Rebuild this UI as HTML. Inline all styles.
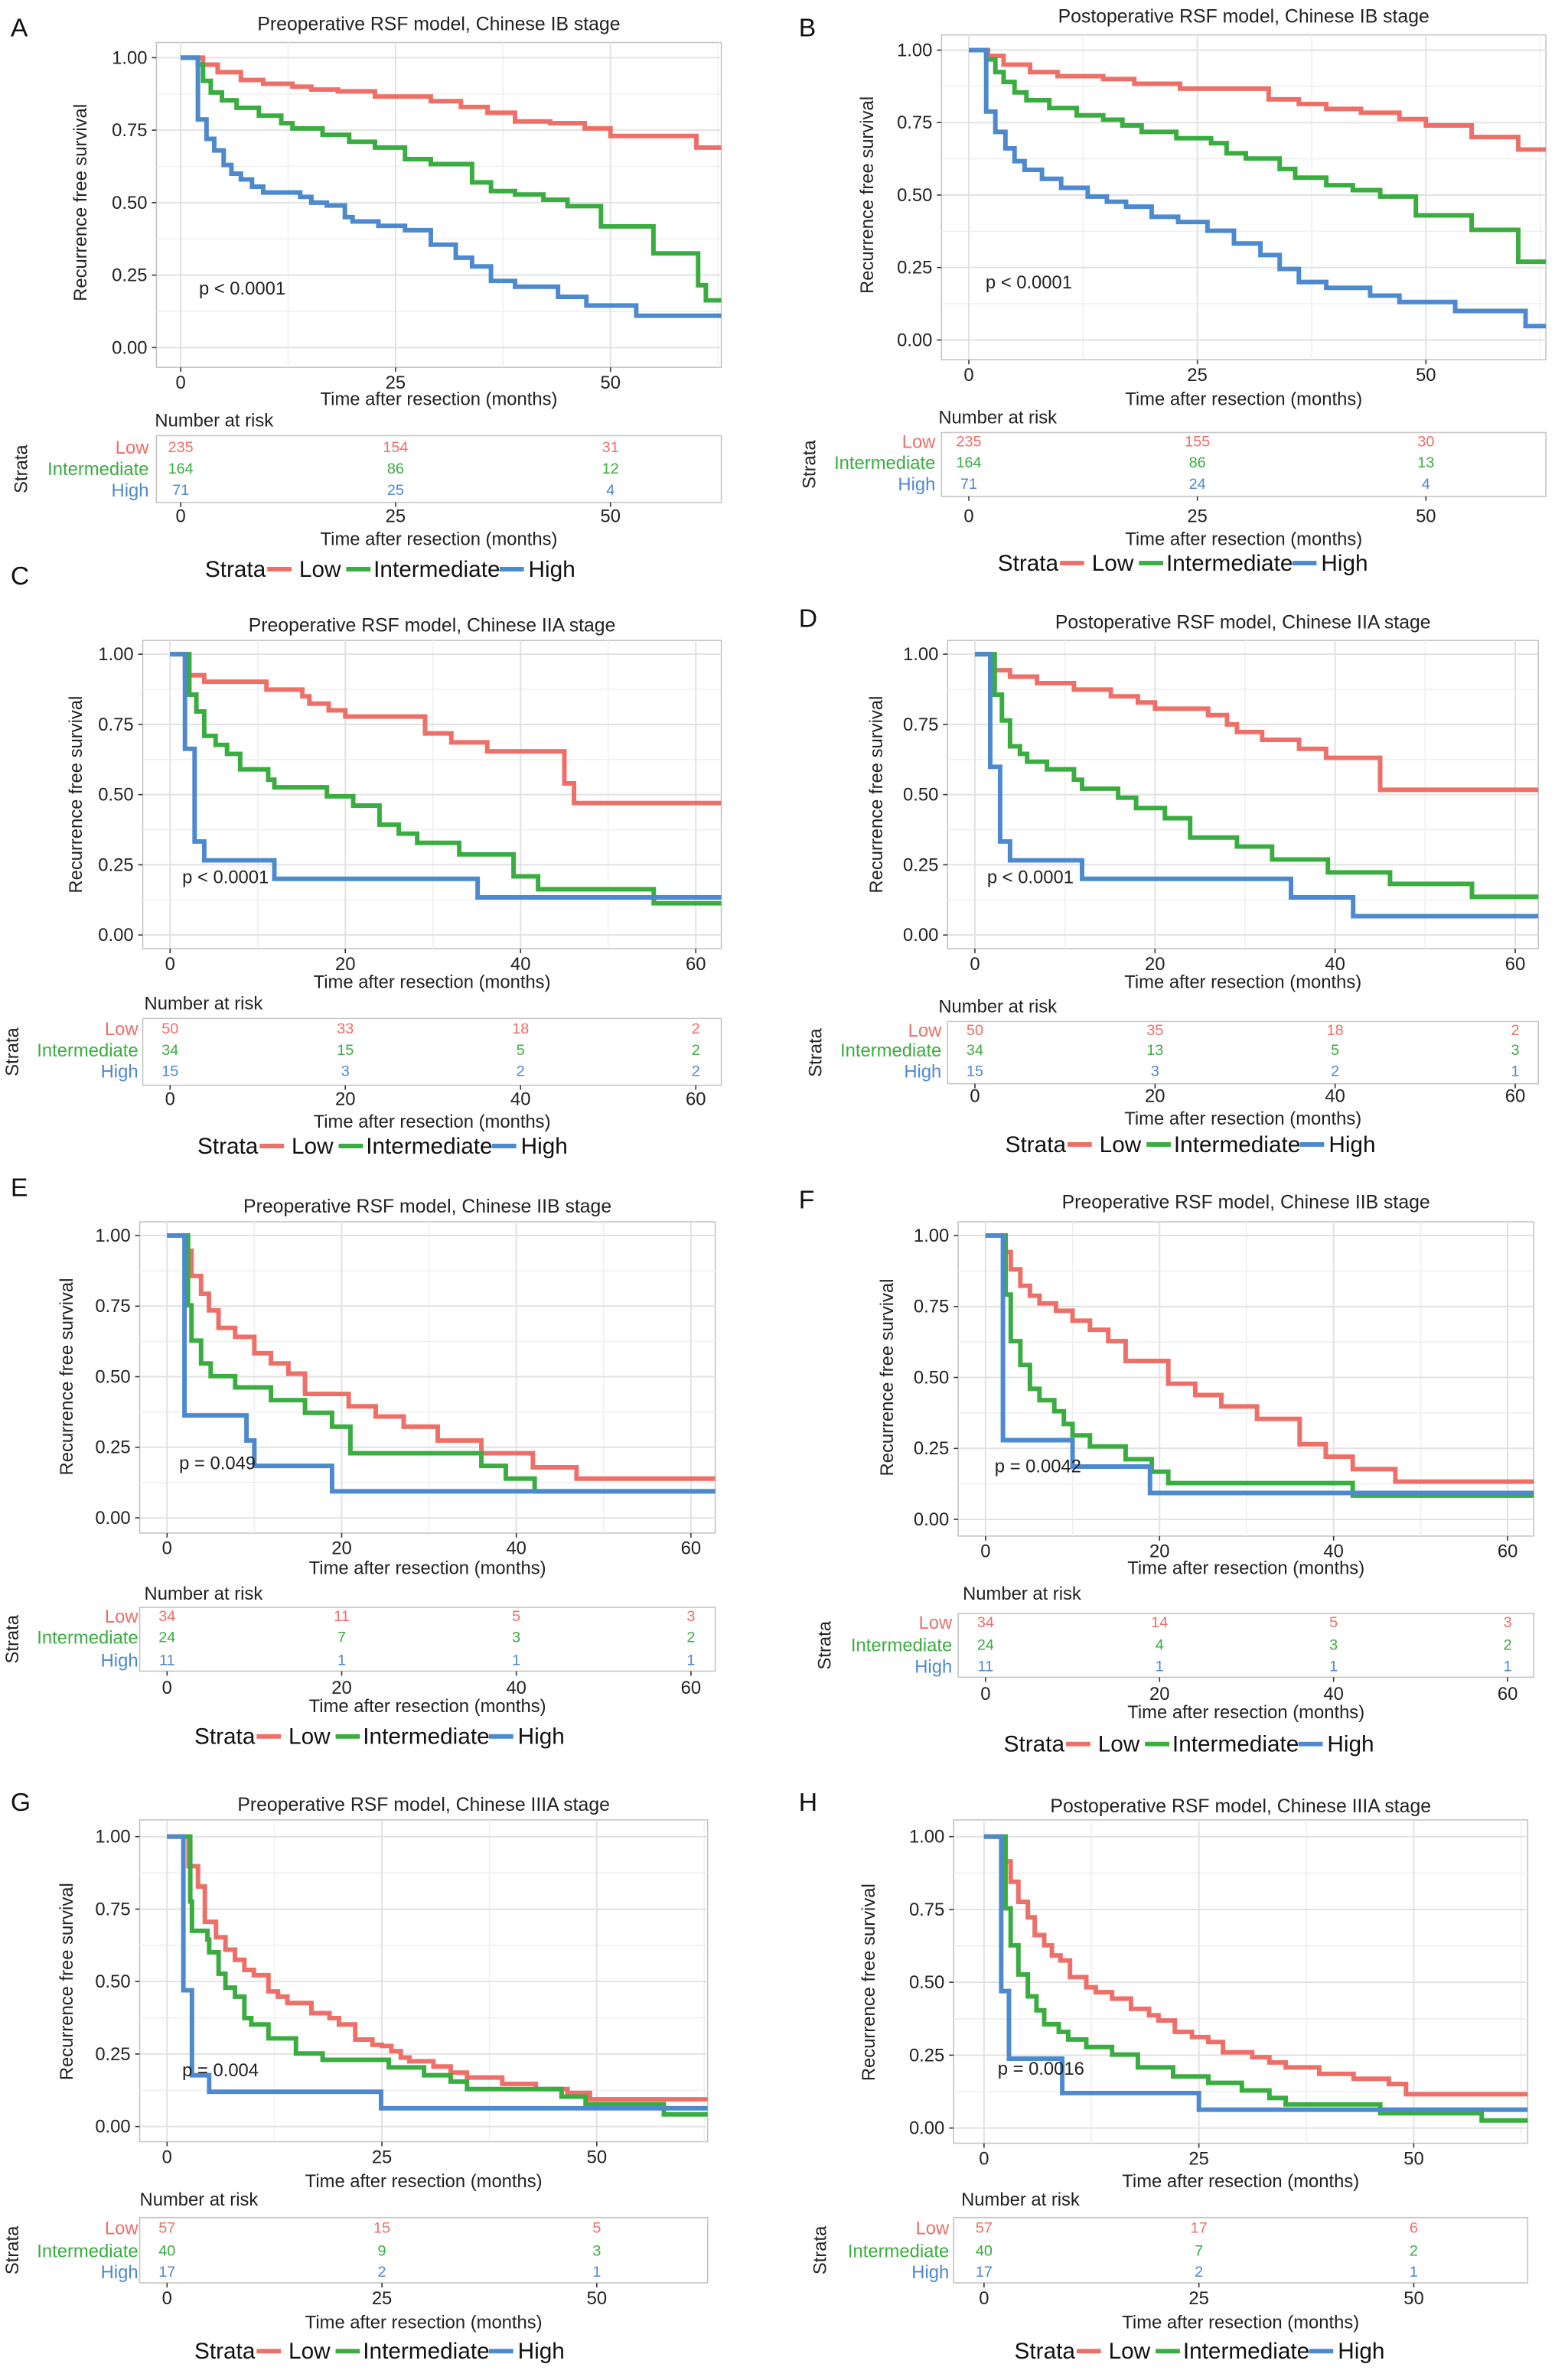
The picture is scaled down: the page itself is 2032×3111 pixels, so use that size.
<!DOCTYPE html>
<html><head><meta charset="utf-8">
<style>
html,body{margin:0;padding:0;background:#fff;}
svg{display:block;}
text{font-family:"Liberation Sans",Arial,sans-serif;}
</style></head>
<body>
<svg id="fig" xmlns="http://www.w3.org/2000/svg" width="2032" height="3111" viewBox="0 0 1024 1568" preserveAspectRatio="none"></svg>
<script>
// ---------- Panel A data ----------
const aLowT=[2.6,4.3,7,9.6,13,15.2,18.3,22.6,29.1,32.6,35.7,38.9,43,47,50,60];
const aLowS=[0.976,0.95,0.923,0.91,0.9,0.89,0.884,0.866,0.85,0.83,0.81,0.78,0.774,0.756,0.73,0.69];
const aIntT=[2,2.6,3.5,4.8,6.5,9.1,11.7,13,16.5,19.6,22.6,26.1,29.1,33.9,36.1,38.9,42.2,45,48.9,55,60.2,61.1];
const aIntS=[0.976,0.92,0.88,0.853,0.827,0.8,0.774,0.756,0.734,0.71,0.69,0.65,0.633,0.57,0.54,0.528,0.51,0.488,0.418,0.325,0.215,0.163];
const aHighT=[2,3,3.9,5,5.9,7,8.3,9.6,13.9,15.2,17,19.1,20,23,26.1,29.1,32,33.9,36.1,38.9,43.9,47.2,53];
const aHighS=[0.787,0.72,0.68,0.63,0.6,0.58,0.555,0.535,0.52,0.5,0.49,0.45,0.435,0.42,0.405,0.355,0.31,0.28,0.23,0.21,0.175,0.145,0.11];
const aRiskLow=[235,154,31], aRiskInt=[164,86,12], aRiskHigh=[71,25,4];
// ---------- Panel B data ----------
const bLowT=[2.1,3.8,6.7,9.7,14.7,18.1,23.1,32.8,36.1,39.1,42.9,47.1,50,55,60.1];
const bLowS=[0.98,0.95,0.924,0.91,0.9,0.884,0.867,0.83,0.814,0.797,0.784,0.762,0.74,0.70,0.657];
const bIntT=[1.9,2.9,3.8,5,6.3,8.8,11.8,14.7,16.8,18.9,22.7,26.5,28.2,30.3,34,35.7,39.1,42,45,48.9,55,60.1];
const bIntS=[0.968,0.924,0.89,0.854,0.827,0.8,0.775,0.76,0.74,0.718,0.696,0.679,0.644,0.626,0.59,0.56,0.534,0.517,0.495,0.43,0.38,0.27];
const bHighT=[1.9,2.9,4,5,6.1,8,10.1,13,15.1,17.2,20,22.9,26.1,29,31.9,34,36.1,39.1,43.9,47.1,53.2,60.9];
const bHighS=[0.788,0.718,0.661,0.617,0.587,0.556,0.525,0.495,0.477,0.46,0.425,0.407,0.377,0.333,0.293,0.245,0.2,0.18,0.153,0.131,0.1,0.048];
const bRiskLow=[235,155,30], bRiskInt=[164,86,13], bRiskHigh=[71,24,4];
// ---------- Panel C data ----------
const cLowT=[1.7,3.9,11,15.1,15.9,18.1,20,29.1,32.1,36.2,45,46.1];
const cLowS=[0.925,0.902,0.874,0.85,0.824,0.8,0.778,0.718,0.686,0.654,0.54,0.47];
const cIntT=[2.2,3,3.9,5.2,6.5,8,11.2,11.9,17.9,20.9,23.9,26.1,28.2,33,39.2,42,55.2];
const cIntS=[0.856,0.796,0.709,0.677,0.645,0.59,0.553,0.526,0.494,0.461,0.393,0.361,0.328,0.287,0.209,0.163,0.113];
const cHighT=[1.7,2.8,3.9,11.9,35.1];
const cHighS=[0.663,0.333,0.266,0.2,0.134];
const cRiskLow=[50,33,18,2], cRiskInt=[34,15,5,2], cRiskHigh=[15,3,2,2];
// ---------- Panel D data ----------
const dLowT=[1.7,3.9,6.9,11,15.1,18.1,20,25.9,28,29.1,31.9,36,39,45];
const dLowS=[0.943,0.92,0.897,0.874,0.85,0.828,0.806,0.783,0.75,0.723,0.695,0.663,0.631,0.517];
const dIntT=[2.2,3,3.9,5,5.8,8,11,11.9,15.9,17.9,21.1,23.9,29.1,33,39.2,46.1,55.2];
const dIntS=[0.856,0.764,0.672,0.645,0.617,0.59,0.553,0.521,0.489,0.452,0.416,0.347,0.315,0.269,0.223,0.182,0.136];
const dHighT=[1.7,2.8,3.9,11.9,35.1,42];
const dHighS=[0.599,0.333,0.266,0.2,0.134,0.067];
const dRiskLow=[50,35,18,2], dRiskInt=[34,13,5,3], dRiskHigh=[15,3,2,1];
// ---------- Panel E data ----------
const eLowT=[2.4,2.8,3.9,4.8,5.9,7.8,10,11.9,13.9,15.8,20.8,23.9,27.1,31,36,41.9,46.9];
const eLowS=[0.946,0.857,0.794,0.735,0.673,0.641,0.583,0.547,0.511,0.439,0.395,0.359,0.323,0.274,0.229,0.179,0.139];
const eIntT=[2.4,2.8,3.9,5,7.8,11.9,15.8,18.9,21,36,38.8,42.1];
const eIntS=[0.753,0.628,0.547,0.502,0.462,0.417,0.372,0.323,0.229,0.184,0.139,0.094];
const eHighT=[2,9.1,10,18.9];
const eHighS=[0.363,0.274,0.184,0.094];
const eRiskLow=[34,11,5,3], eRiskInt=[24,7,3,2], eRiskHigh=[11,1,1,1];
// ---------- Panel F data ----------
const fLowT=[2.3,2.9,4,5.1,6.2,8.1,10,12,14.1,16.1,21,24.1,27.1,31.2,36.1,39.1,42.2,47.1];
const fLowS=[0.942,0.881,0.823,0.788,0.761,0.735,0.7,0.668,0.628,0.558,0.478,0.438,0.398,0.354,0.265,0.221,0.177,0.133];
const fIntT=[2.3,2.9,4,5.1,6.2,7.9,9,10,12,16.1,19.1,21,42.2];
const fIntS=[0.792,0.628,0.544,0.46,0.42,0.381,0.336,0.296,0.257,0.212,0.168,0.128,0.084];
const fHighT=[2,10,18.9];
const fHighS=[0.279,0.186,0.093];
const fRiskLow=[34,14,5,3], fRiskInt=[24,4,3,2], fRiskHigh=[11,1,1,1];
// ---------- Panel G data ----------
const gLowT=[2.5,3.6,4.4,5.7,6.8,7.9,9,10.1,11.8,12.9,14,16.8,18.9,20,21.9,23.9,25,26.1,27.2,28.2,31,33,34.9,39,42.9,46.6,49.2];
const gLowS=[0.898,0.828,0.706,0.653,0.61,0.575,0.54,0.522,0.466,0.448,0.426,0.391,0.374,0.352,0.3,0.282,0.278,0.26,0.238,0.225,0.207,0.186,0.169,0.147,0.129,0.116,0.094];
const gIntT=[2.7,2.9,4.7,4.9,6,6.8,7.9,9,9.8,11.8,15,18.1,25.8,29.9,33,34.9,45.9,48.7,57.8];
const gIntS=[0.776,0.675,0.645,0.601,0.527,0.479,0.448,0.374,0.352,0.304,0.252,0.23,0.204,0.177,0.155,0.129,0.103,0.077,0.042];
const gHighT=[1.9,2.9,4.9,24.9];
const gHighS=[0.47,0.177,0.12,0.063];
const gRiskLow=[57,15,5], gRiskInt=[40,9,3], gRiskHigh=[17,2,1];
// ---------- Panel H data ----------
const hLowT=[2.5,3.1,4,5.1,5.9,7,7.9,8.9,10,11.9,13,14.9,17.1,19.2,20.3,22.2,24.2,26.1,27.8,31.2,33.2,35.1,39,43,47.1,49.1];
const hLowS=[0.915,0.845,0.776,0.723,0.662,0.627,0.592,0.575,0.518,0.483,0.466,0.444,0.409,0.387,0.369,0.33,0.312,0.295,0.26,0.243,0.225,0.208,0.186,0.169,0.151,0.116];
const hIntT=[2.5,3.1,4,5.1,6.1,7,8.7,9.8,11.9,14.9,17.9,22,26.1,30,33.2,35.1,46.1,57.9];
const hIntS=[0.754,0.627,0.527,0.452,0.404,0.356,0.33,0.304,0.278,0.252,0.208,0.177,0.155,0.129,0.103,0.081,0.051,0.026];
const hHighT=[2,2.9,9.1,25];
const hHighS=[0.47,0.238,0.12,0.063];
const hRiskLow=[57,17,6], hRiskInt=[40,7,2], hRiskHigh=[17,2,1];

const xTicks25=[0,25,50], xTicks20=[0,20,40,60];
const yTicks=[0,0.25,0.5,0.75,1];
const yTickLabels=["0.00","0.25","0.50","0.75","1.00"];
const strataNames=["Low","Intermediate","High"];
const COLORS=["#ee6f68","#3aad40","#4d89cf"];

const NS="http://www.w3.org/2000/svg";
const svg=document.getElementById('fig');
function mk(tag,attrs,parent,txt){const e=document.createElementNS(NS,tag);for(const k in attrs)e.setAttribute(k,attrs[k]);if(txt!==undefined)e.textContent=txt;(parent||svg).appendChild(e);return e;}

const panels=[
 {id:'a',letter:'A',lx:7,ly:24,title:'Preoperative RSF model, Chinese IB stage',ty:20,xz:119,xs:5.66,y1:38,y0:229,L:103,R:475,T:28,B:242,ticks:xTicks25,
  ytx:57,pvx:131,pvy:194,pv:'p < 0.0001',xtY:267,nar:[102,281],tb:[287,331],rows:[299,313,327],sx:98,stx:18,tk2:344,xt2:359,lg:[135,380],
  curves:[[aLowT,aLowS],[aIntT,aIntS],[aHighT,aHighS]],risk:[aRiskLow,aRiskInt,aRiskHigh]},
 {id:'b',letter:'B',lx:526,ly:24,title:'Postoperative RSF model, Chinese IB stage',ty:15,xz:638,xs:6.02,y1:33,y0:224,L:620,R:1018,T:23,B:237,ticks:xTicks25,
  ytx:575,pvx:649,pvy:190,pv:'p < 0.0001',xtY:267,nar:[618,279],tb:[285,327],rows:[295,309,323],sx:616,stx:537,tk2:344,xt2:359,lg:[657,376],
  curves:[[bLowT,bLowS],[bIntT,bIntS],[bHighT,bHighS]],risk:[bRiskLow,bRiskInt,bRiskHigh]},
 {id:'c',letter:'C',lx:7,ly:385,title:'Preoperative RSF model, Chinese IIA stage',ty:416,xz:112,xs:5.77,y1:431,y0:616,L:94,R:475,T:422,B:625,ticks:xTicks20,
  ytx:54,pvx:120,pvy:582,pv:'p < 0.0001',xtY:651,nar:[95,665],tb:[671,715],rows:[682,696,710],sx:91,stx:12,tk2:728,xt2:743,lg:[130,760],
  curves:[[cLowT,cLowS],[cIntT,cIntS],[cHighT,cHighS]],risk:[cRiskLow,cRiskInt,cRiskHigh]},
 {id:'d',letter:'D',lx:526,ly:413,title:'Postoperative RSF model, Chinese IIA stage',ty:414,xz:642,xs:5.93,y1:431,y0:616,L:624,R:1013,T:422,B:625,ticks:xTicks20,
  ytx:581,pvx:650,pvy:582,pv:'p < 0.0001',xtY:651,nar:[618,667],tb:[673,714],rows:[683,696,710],sx:620,stx:541,tk2:726,xt2:741,lg:[662,759],
  curves:[[dLowT,dLowS],[dIntT,dIntS],[dHighT,dHighS]],risk:[dRiskLow,dRiskInt,dRiskHigh]},
 {id:'e',letter:'E',lx:7,ly:788,title:'Preoperative RSF model, Chinese IIB stage',ty:799,xz:110,xs:5.75,y1:814,y0:1000,L:92,R:471,T:805,B:1010,ticks:xTicks20,
  ytx:48,pvx:118,pvy:968,pv:'p = 0.049',xtY:1037,nar:[95,1054],tb:[1059,1101],rows:[1069,1083,1098],sx:91,stx:12,tk2:1116,xt2:1128,lg:[128,1149],
  curves:[[eLowT,eLowS],[eIntT,eIntS],[eHighT,eHighS]],risk:[eRiskLow,eRiskInt,eRiskHigh]},
 {id:'f',letter:'F',lx:526,ly:796,title:'Preoperative RSF model, Chinese IIB stage',ty:796,xz:649,xs:5.73,y1:814,y0:1001,L:631,R:1010,T:805,B:1012,ticks:xTicks20,
  ytx:588,pvx:655,pvy:970,pv:'p = 0.0042',xtY:1037,nar:[634,1054],tb:[1063,1105],rows:[1073,1088,1102],sx:627,stx:547,tk2:1120,xt2:1132,lg:[661,1154],
  curves:[[fLowT,fLowS],[fIntT,fIntS],[fHighT,fHighS]],risk:[fRiskLow,fRiskInt,fRiskHigh]},
 {id:'g',letter:'G',lx:7,ly:1193,title:'Preoperative RSF model, Chinese IIIA stage',ty:1193,xz:110,xs:5.66,y1:1210,y0:1401,L:92,R:466,T:1199,B:1411,ticks:xTicks25,
  ytx:48,pvx:120,pvy:1368,pv:'p = 0.004',xtY:1441,nar:[92,1453],tb:[1461,1504],rows:[1472,1487,1501],sx:91,stx:12,tk2:1518,xt2:1534,lg:[128,1554],
  curves:[[gLowT,gLowS],[gIntT,gIntS],[gHighT,gHighS]],risk:[gRiskLow,gRiskInt,gRiskHigh]},
 {id:'h',letter:'H',lx:526,ly:1193,title:'Postoperative RSF model, Chinese IIIA stage',ty:1194,xz:648,xs:5.66,y1:1210,y0:1402,L:628,R:1006,T:1199,B:1412,ticks:xTicks25,
  ytx:576,pvx:657,pvy:1367,pv:'p = 0.0016',xtY:1441,nar:[633,1453],tb:[1461,1504],rows:[1472,1487,1501],sx:625,stx:544,tk2:1518,xt2:1534,lg:[668,1554],
  curves:[[hLowT,hLowS],[hIntT,hIntS],[hHighT,hHighS]],risk:[hRiskLow,hRiskInt,hRiskHigh]}
];

panels.forEach(p=>{
  const X=t=>p.xz+t*p.xs;
  const Y=s=>p.y0-(p.y0-p.y1)*s;
  const xmax=(p.R-p.xz)/p.xs;
  const g=mk('g',{});
  
  
  const lt=mk('text',{x:p.lx,y:p.ly,'font-size':17,fill:'#111'},g,p.letter);
  
  
  const cx=(p.L+p.R)/2;
  const tt=mk('text',{x:cx,y:p.ty,'font-size':12.5,'text-anchor':'middle',fill:'#222'},g,p.title);
  
  
  const bg=mk('rect',{x:p.L,y:p.T,width:p.R-p.L,height:p.B-p.T,fill:'#fff',stroke:'#c4c4c4','stroke-width':0.8},g);
  
  
  const step=p.ticks[1]-p.ticks[0];
  for(let v=step/2; X(v)<p.R; v+=step){mk('line',{x1:X(v),x2:X(v),y1:p.T,y2:p.B,stroke:'#f0f0f0','stroke-width':0.8},g);}
  for(let v=0.125; v<1.1; v+=0.25){mk('line',{x1:p.L,x2:p.R,y1:Y(v),y2:Y(v),stroke:'#f0f0f0','stroke-width':0.8},g);}
  p.ticks.forEach(v=>{
    mk('line',{x1:X(v),x2:X(v),y1:p.T,y2:p.B,stroke:'#e2e2e2','stroke-width':1},g);
    mk('line',{x1:X(v),x2:X(v),y1:p.B,y2:p.B+3,stroke:'#333','stroke-width':0.8},g);
    const tl=mk('text',{x:X(v),y:p.B+14,'font-size':12,'text-anchor':'middle',fill:'#222'},g,String(v));
    
    
  });
  yTicks.forEach((v,i)=>{
    mk('line',{x1:p.L,x2:p.R,y1:Y(v),y2:Y(v),stroke:'#e2e2e2','stroke-width':1},g);
    mk('line',{x1:p.L-3,x2:p.L,y1:Y(v),y2:Y(v),stroke:'#333','stroke-width':0.8},g);
    const yl=mk('text',{x:p.L-6,y:Y(v)+4,'font-size':12,'text-anchor':'end',fill:'#222'},g,yTickLabels[i]);
    
    
  });
  const ym=(p.y0+p.y1)/2;
  const yt=mk('text',{x:p.ytx,y:ym,'font-size':12,'text-anchor':'middle',fill:'#222',transform:`rotate(-90 ${p.ytx} ${ym})`},g,'Recurrence free survival');
  
  
  const xt=mk('text',{x:cx,y:p.xtY,'font-size':12,'text-anchor':'middle',fill:'#222'},g,'Time after resection (months)');
  
  
  p.curves.forEach((c,ci)=>{
    const T=c[0], S=c[1];
    let d=`M${X(0)},${Y(1)}`;
    for(let i=0;i<T.length;i++){d+=` H${X(T[i])} V${Y(S[i])}`;}
    d+=` H${X(xmax)}`;
    const path=mk('path',{d:d,fill:'none',stroke:COLORS[ci],'stroke-width':3,'stroke-linejoin':'miter'},g);
    
    
  });
  const pv=mk('text',{x:p.pvx,y:p.pvy,'font-size':12,fill:'#222'},g,p.pv);
  
  
  const nr=mk('text',{x:p.nar[0],y:p.nar[1],'font-size':12,fill:'#222'},g,'Number at risk');
  
  
  const tb=mk('rect',{x:p.L,y:p.tb[0],width:p.R-p.L,height:p.tb[1]-p.tb[0],fill:'#fff',stroke:'#c4c4c4','stroke-width':0.8},g);
  
  
  p.ticks.forEach(v=>{
    mk('line',{x1:X(v),x2:X(v),y1:p.tb[1],y2:p.tb[1]+3,stroke:'#333','stroke-width':0.8},g);
    const tl=mk('text',{x:X(v),y:p.tk2,'font-size':12,'text-anchor':'middle',fill:'#222'},g,String(v));
    
    
  });
  p.risk.forEach((arr,ri)=>{
    const sl=mk('text',{x:p.sx,y:p.rows[ri],'font-size':12,'text-anchor':'end',fill:COLORS[ri]},g,strataNames[ri]);
    
    
    arr.forEach((n,k)=>{
      const rv=mk('text',{x:X(p.ticks[k]),y:p.rows[ri]-1,'font-size':10,'text-anchor':'middle',fill:COLORS[ri]},g,String(n));
      
      
    });
  });
  const rm=(p.tb[0]+p.tb[1])/2;
  const st=mk('text',{x:p.stx,y:rm,'font-size':12,'text-anchor':'middle',fill:'#222',transform:`rotate(-90 ${p.stx} ${rm})`},g,'Strata');
  
  
  const x2=mk('text',{x:cx,y:p.xt2,'font-size':12,'text-anchor':'middle',fill:'#222'},g,'Time after resection (months)');
  
  
  const s=p.lg[0], ly=p.lg[1];
  const lg=mk('g',{},g);
  
  
  mk('text',{x:s,y:ly,'font-size':15,fill:'#111'},lg,'Strata');
  const offs=[[41,62],[93,111],[194,213]];
  strataNames.forEach((nm,i)=>{
    const ln=mk('line',{x1:s+offs[i][0],x2:s+offs[i][0]+16,y1:ly-5,y2:ly-5,stroke:COLORS[i],'stroke-width':3},lg);
    
    
    const lt2=mk('text',{x:s+offs[i][1],y:ly,'font-size':15,fill:'#111'},lg,nm);
    
    
  });
});
</script>
</body></html>
